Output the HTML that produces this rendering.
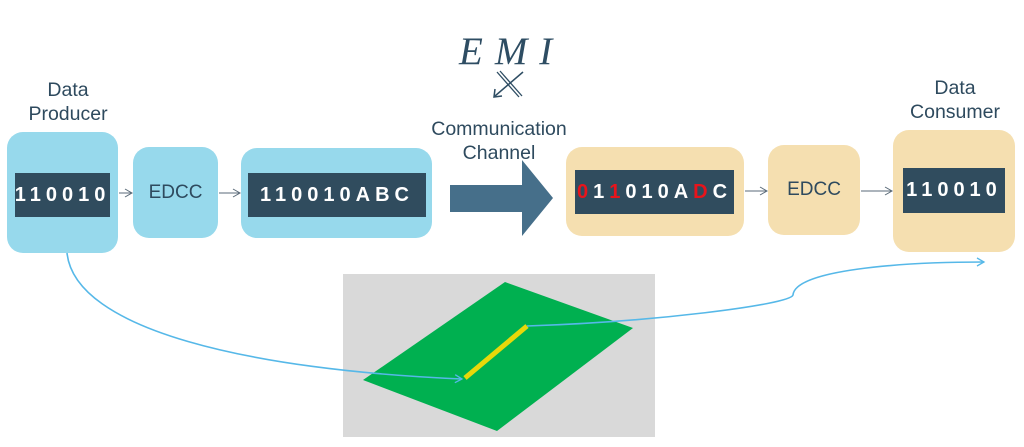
<!DOCTYPE html>
<html><head><meta charset="utf-8"><style>
body{margin:0;width:1024px;height:447px;background:#fff;position:relative;overflow:hidden;font-family:"Liberation Sans",sans-serif;}
.b{position:absolute;border-radius:16px;}
.blue{background:#97d9ec;}
.tan{background:#f5dfb0;}
.d{position:absolute;background:#304c5e;color:#fff;font-weight:bold;font-size:20px;letter-spacing:5px;display:flex;align-items:center;justify-content:center;}
.lbl{position:absolute;color:#2e4a5e;font-size:19.5px;text-align:center;line-height:24px;}
.ed{display:flex;align-items:center;justify-content:center;color:#2e4a5e;font-size:19px;}
.r{color:#e8141b;}
</style></head><body>
<div class="lbl" style="left:8px;top:78px;width:120px">Data<br>Producer</div>
<div class="lbl" style="left:895px;top:76px;width:120px">Data<br>Consumer</div>
<div class="lbl" style="left:410px;top:117px;width:178px">Communication<br>Channel</div>
<div style="position:absolute;left:459px;top:29px;font-family:'Liberation Serif',serif;font-style:italic;font-size:39px;color:#2e4d63;letter-spacing:12px">EMI</div>

<div class="b blue" style="left:7px;top:132px;width:111px;height:121px"></div>
<div class="d" style="left:15px;top:173px;width:95px;height:44px">110010</div>
<div class="b blue ed" style="left:133px;top:147px;width:85px;height:91px">EDCC</div>
<div class="b blue" style="left:241px;top:148px;width:191px;height:90px"></div>
<div class="d" style="left:248px;top:173px;width:178px;height:44px">110010ABC</div>

<div class="b tan" style="left:566px;top:147px;width:178px;height:89px"></div>
<div class="d" style="left:575px;top:170px;width:159px;height:44px"><span class="r">0</span>1<span class="r">1</span>010A<span class="r">D</span>C</div>
<div class="b tan ed" style="left:768px;top:145px;width:92px;height:90px">EDCC</div>
<div class="b tan" style="left:893px;top:130px;width:122px;height:122px"></div>
<div class="d" style="left:903px;top:168px;width:102px;height:45px">110010</div>

<div style="position:absolute;left:343px;top:274px;width:312px;height:163px;background:#d9d9d9"></div>

<svg width="1024" height="447" style="position:absolute;left:0;top:0">
<defs><marker id="a" markerWidth="10" markerHeight="10" refX="8" refY="5" orient="auto" markerUnits="userSpaceOnUse"><path d="M1,1 L8,5 L1,9" fill="none" stroke="#56b8e8" stroke-width="1.3"/></marker>
<marker id="g" markerWidth="10" markerHeight="10" refX="8" refY="5" orient="auto" markerUnits="userSpaceOnUse"><path d="M1,1 L8,5 L1,9" fill="none" stroke="#5a6a78" stroke-width="1"/></marker></defs>
<polygon points="505,282 633,328 497,431 363,380" fill="#00b050"/>
<line x1="465" y1="378" x2="527" y2="326" stroke="#e8d80a" stroke-width="5"/>
<path d="M67,253 C75,330 250,370 462,379" fill="none" stroke="#56b8e8" stroke-width="1.6" marker-end="url(#a)"/>
<path d="M527,326 C650,322 790,305 793,295 C795,270 900,262 984,262" fill="none" stroke="#56b8e8" stroke-width="1.6" marker-end="url(#a)"/>
<line x1="119" y1="193" x2="132" y2="193" stroke="#5a6a78" stroke-width="1" marker-end="url(#g)"/>
<line x1="219" y1="193" x2="240" y2="193" stroke="#5a6a78" stroke-width="1" marker-end="url(#g)"/>
<line x1="745" y1="191" x2="767" y2="191" stroke="#5a6a78" stroke-width="1" marker-end="url(#g)"/>
<line x1="861" y1="191" x2="892" y2="191" stroke="#5a6a78" stroke-width="1" marker-end="url(#g)"/>
<polygon points="450,185 522,185 522,160 553,198 522,236 522,212 450,212" fill="#466f8a"/>
<line x1="523" y1="72" x2="495" y2="96" stroke="#2e4d63" stroke-width="1.5"/>
<path d="M495,89 L494,97 L502,96" fill="none" stroke="#2e4d63" stroke-width="1.5"/>
<line x1="497" y1="72" x2="519" y2="97" stroke="#2e4d63" stroke-width="1.3"/>
<line x1="500" y1="71" x2="522" y2="96" stroke="#2e4d63" stroke-width="1.3"/>
</svg>
</body></html>
